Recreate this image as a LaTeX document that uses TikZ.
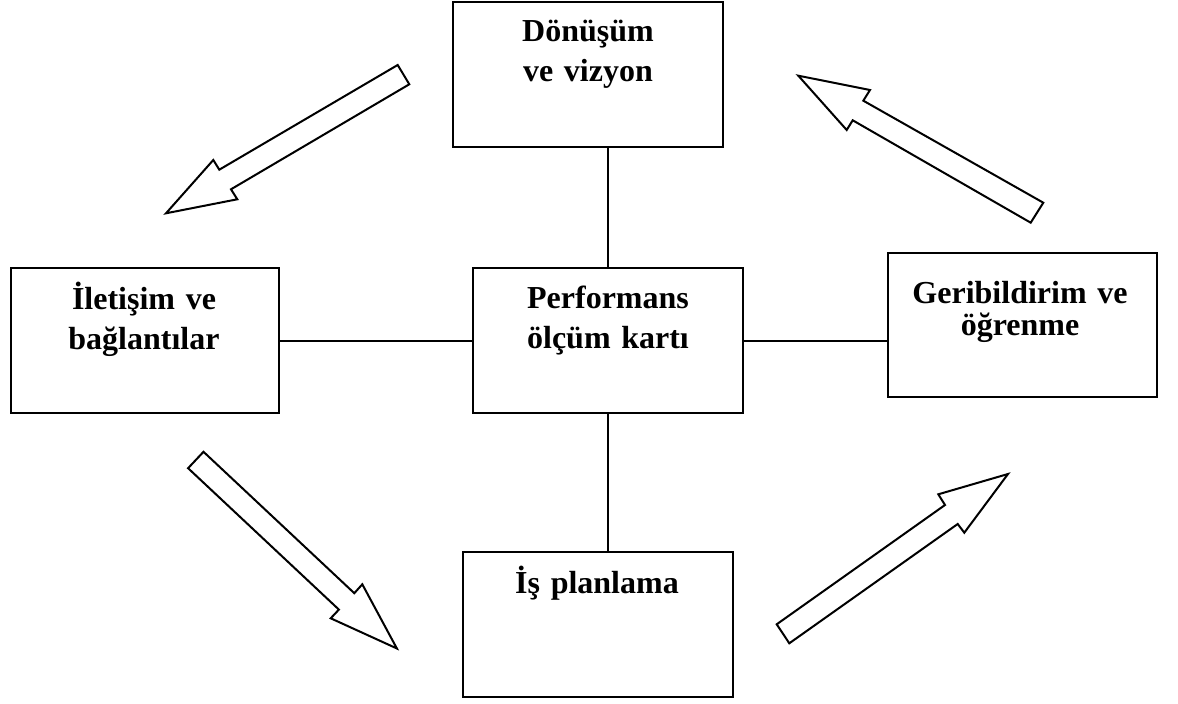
\documentclass[tikz,border=0pt]{standalone}
\usepackage{fontspec}
\setmainfont{Liberation Serif}
\begin{document}
\begin{tikzpicture}[x=0.5pt, y=-0.5pt, line width=1pt]
\tikzset{kutu/.style={draw, minimum width=135pt, minimum height=72.5pt, inner sep=0pt},
  yazi/.style={anchor=base, text width=125pt, align=center, inner sep=0pt,
    font=\fontsize{16pt}{20pt}\selectfont\bfseries},
  blok/.style={draw, fill=white, line join=miter}}
\useasboundingbox (0,0) rectangle (1178,704);
\node[kutu] (dv) at (588, 74.5) {};
\node[kutu, minimum width=134pt] (il) at (145, 341) {};
\node[kutu] (pk) at (608, 341) {};
\node[kutu, minimum width=134.5pt, minimum height=72pt] (gb) at (1022.5, 324.7) {};
\node[kutu] (ip) at (598, 624.5) {};
\node[yazi] (dv-t) at (588, 41.7) {Dönüşüm\\ve vizyon};
\node[yazi] (il-t) at (144, 309.3) {İletişim ve\\bağlantılar};
\node[yazi] (pk-t) at (608, 308.3) {Performans\\ölçüm kartı};
\node[yazi, font=\fontsize{16pt}{16.2pt}\selectfont\bfseries] (gb-t) at (1020, 303.3) {Geribildirim ve\\öğrenme};
\node[yazi] (ip-t) at (597, 593.3) {İş planlama};
\draw (pk.north) -- (pk.north |- dv.south);
\draw (il.east) -- (pk.west);
\draw (pk.east) -- (pk.east -| gb.west);
\draw (pk.south) -- (pk.south |- ip.north);
\draw[blok] (397.7,65) -- (409.3,84.3) -- (231,189.3) -- (237.3,199.3) -- (166,213.3) -- (213.3,160) -- (219.3,169.7) -- cycle;
\draw[blok] (798.3,75.7) -- (870,90) -- (863.3,100.7) -- (1043.3,202.7) -- (1030.7,222.7) -- (852.7,120.3) -- (846.7,130) -- cycle;
\draw[blok] (203.5,451.8) -- (354.3,593.2) -- (362.3,584.3) -- (396.9,648.5) -- (330.7,618.3) -- (338.9,609.6) -- (188.1,468.2) -- cycle;
\draw[blok] (776.7,624.3) -- (945,505) -- (938.3,494.3) -- (1008,474) -- (964.3,532.7) -- (957.7,524) -- (789.3,643.3) -- cycle;
\end{tikzpicture}
\end{document}
